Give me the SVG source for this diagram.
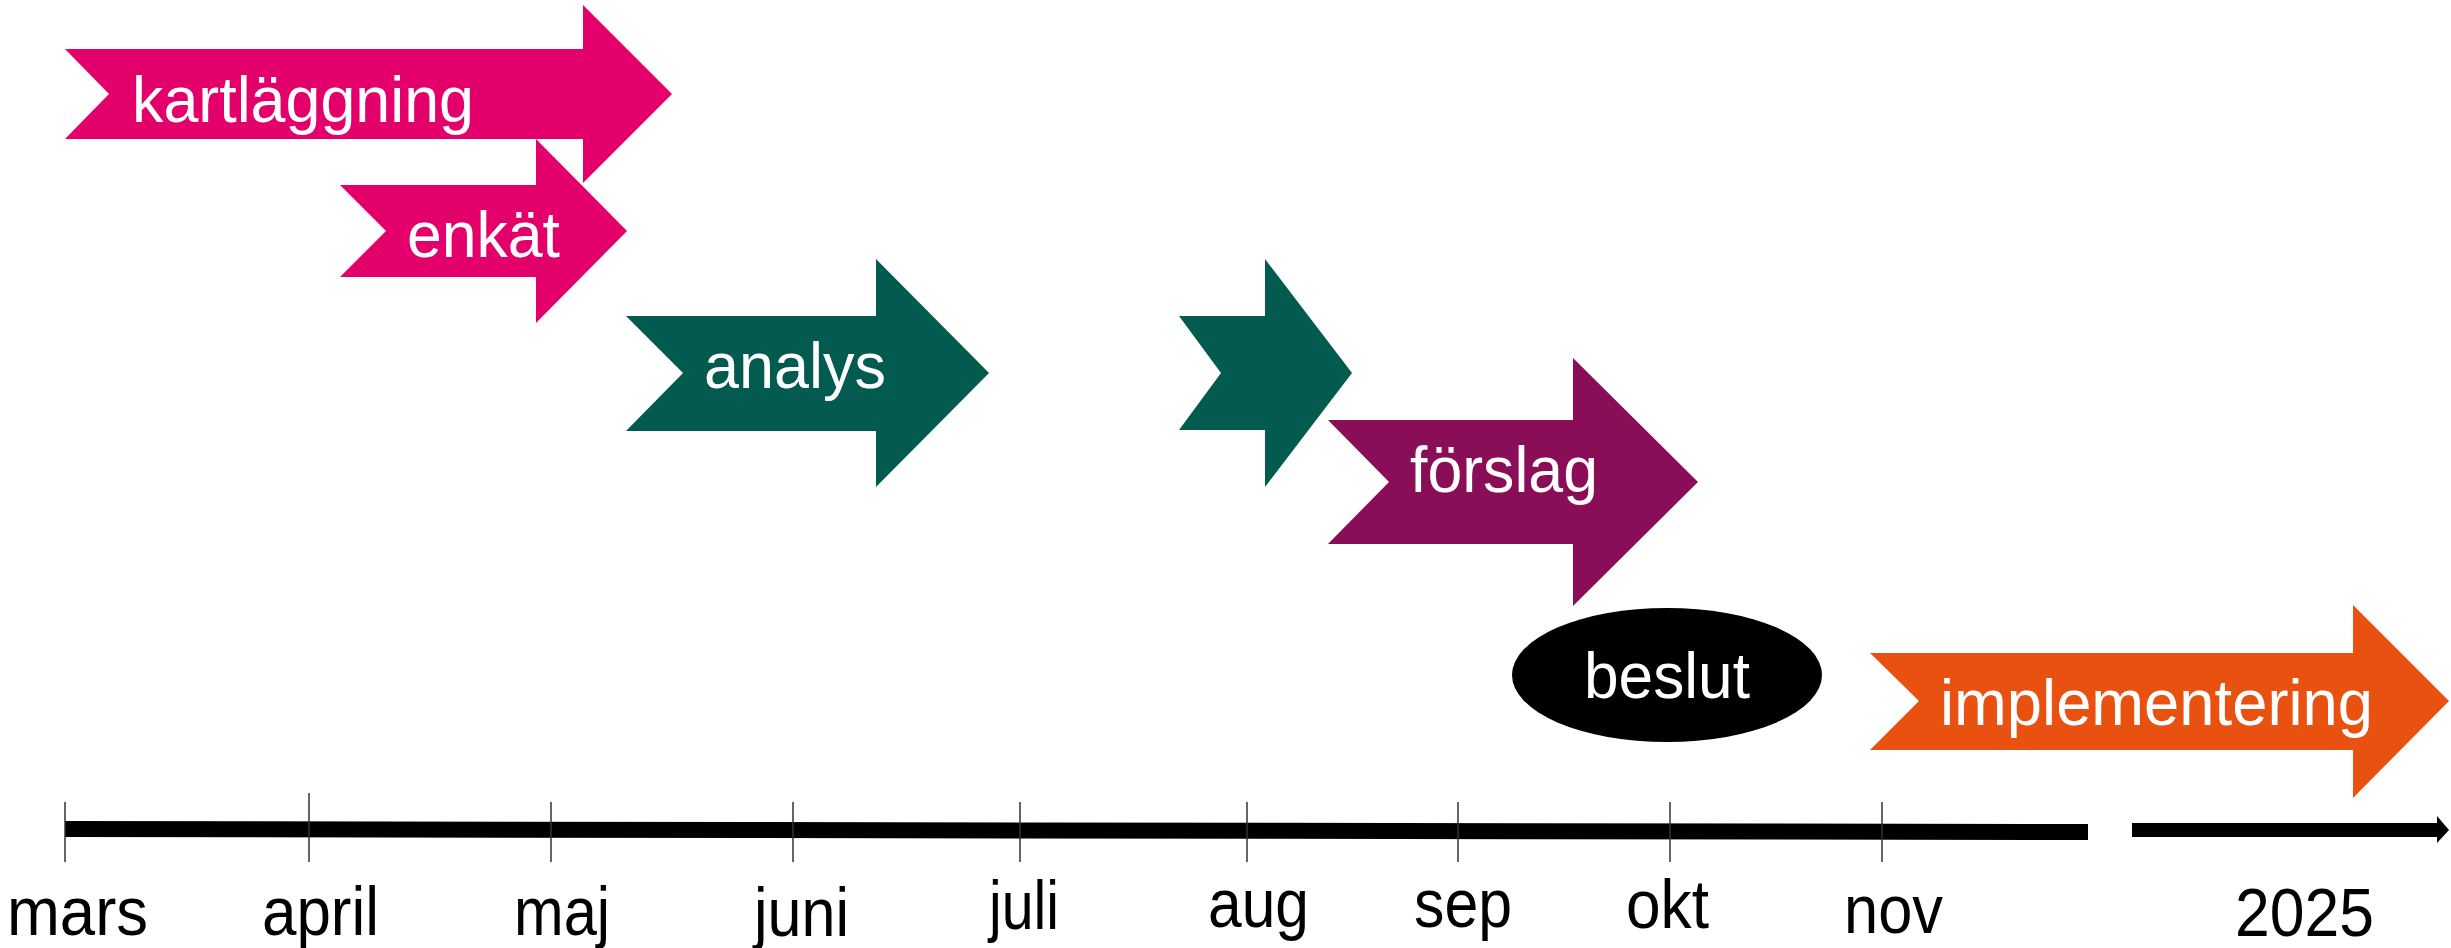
<svg xmlns="http://www.w3.org/2000/svg" width="2451" height="948" viewBox="0 0 2451 948">
<style>
  text { font-family: "Liberation Sans", Arial, sans-serif; font-size: 64px; }
  .lbl { fill: #ffffff; }
  .axis { fill: #000000; font-size: 69px; }
  .pink { fill: #E4006B; }
  .green { fill: #035B4F; }
  .purple { fill: #8A0D57; }
  .orange { fill: #E85110; }
  .tick { stroke: #333333; stroke-width: 1.5; }
</style>
<rect width="2451" height="948" fill="#ffffff"/>
<g id="kartlaggning">
  <polygon class="pink" points="65,49 583,49 583,5 672,94 583,183 583,139 65,139 109,94"/>
  <text class="lbl" x="132" y="122" textLength="342" lengthAdjust="spacingAndGlyphs">kartläggning</text>
</g>
<g id="enkat">
  <polygon class="pink" points="340,185 536,185 536,139 627,231 536,323 536,277 340,277 386,231"/>
  <text class="lbl" x="407" y="257" textLength="153" lengthAdjust="spacingAndGlyphs">enkät</text>
</g>
<g id="analys">
  <polygon class="green" points="626,316 876,316 876,259 989,373 876,487 876,431 626,431 683,373"/>
  <text class="lbl" x="704" y="388" textLength="182" lengthAdjust="spacingAndGlyphs">analys</text>
</g>
<g id="analys2">
  <polygon class="green" points="1179,316 1265,316 1265,259 1352,373 1265,487 1265,430 1179,430 1221,373"/>
</g>
<g id="forslag">
  <polygon class="purple" points="1328,420 1573,420 1573,358 1698,482 1573,606 1573,544 1328,544 1389,482"/>
  <text class="lbl" x="1410" y="492" textLength="188" lengthAdjust="spacingAndGlyphs">förslag</text>
</g>
<g id="beslut">
  <ellipse cx="1667" cy="675" rx="155" ry="67" fill="#000000"/>
  <text class="lbl" x="1584" y="698" textLength="166" lengthAdjust="spacingAndGlyphs">beslut</text>
</g>
<g id="implementering">
  <polygon class="orange" points="1870,653 2353,653 2353,605 2449,701 2353,798 2353,750 1870,750 1919,701"/>
  <text class="lbl" x="1940" y="725" textLength="433" lengthAdjust="spacingAndGlyphs">implementering</text>
</g>
<g id="timeline">
  <polygon points="65,821 2088,824 2088,840 65,837" fill="#000000"/>
  <rect x="2132" y="823" width="306" height="14" fill="#000000"/>
  <polygon points="2437,816 2449,830 2437,843" fill="#000000"/>
  <g class="ticks">
    <line class="tick" x1="65" y1="802" x2="65" y2="862"/>
    <line class="tick" x1="309" y1="793" x2="309" y2="862"/>
    <line class="tick" x1="551" y1="802" x2="551" y2="862"/>
    <line class="tick" x1="793" y1="802" x2="793" y2="862"/>
    <line class="tick" x1="1020" y1="802" x2="1020" y2="862"/>
    <line class="tick" x1="1247" y1="802" x2="1247" y2="862"/>
    <line class="tick" x1="1458" y1="802" x2="1458" y2="862"/>
    <line class="tick" x1="1670" y1="802" x2="1670" y2="862"/>
    <line class="tick" x1="1882" y1="802" x2="1882" y2="862"/>
  </g>
  <text class="axis" x="7" y="935" textLength="141" lengthAdjust="spacingAndGlyphs">mars</text>
  <text class="axis" x="262" y="935" textLength="117" lengthAdjust="spacingAndGlyphs">april</text>
  <text class="axis" x="514" y="935" textLength="96" lengthAdjust="spacingAndGlyphs">maj</text>
  <text class="axis" x="754" y="936" textLength="95" lengthAdjust="spacingAndGlyphs">juni</text>
  <text class="axis" x="989" y="929" textLength="70" lengthAdjust="spacingAndGlyphs">juli</text>
  <text class="axis" x="1208" y="927" textLength="101" lengthAdjust="spacingAndGlyphs">aug</text>
  <text class="axis" x="1414" y="927" textLength="98" lengthAdjust="spacingAndGlyphs">sep</text>
  <text class="axis" x="1626" y="928" textLength="83" lengthAdjust="spacingAndGlyphs">okt</text>
  <text class="axis" x="1844" y="933" textLength="99" lengthAdjust="spacingAndGlyphs">nov</text>
  <text class="axis" x="2235" y="936" textLength="139" lengthAdjust="spacingAndGlyphs">2025</text>
</g>
</svg>
